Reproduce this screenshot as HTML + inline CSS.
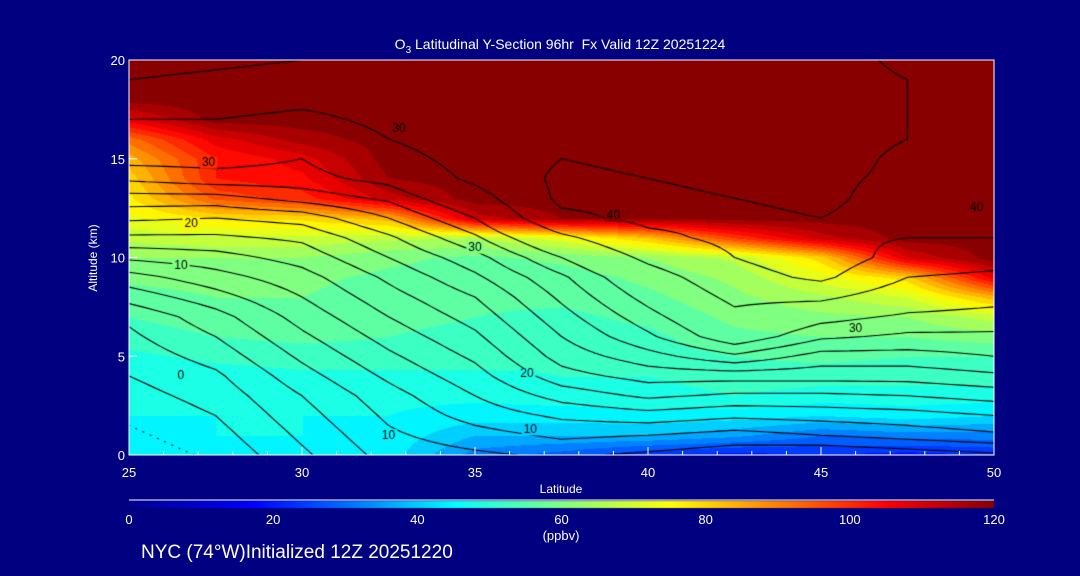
<!DOCTYPE html>
<html><head><meta charset="utf-8"><style>
html,body{margin:0;padding:0;background:#000080;width:1080px;height:576px;overflow:hidden}
.t{position:absolute;color:#fff;font-family:"Liberation Sans",sans-serif;white-space:nowrap}
</style></head><body>
<div style="position:relative;width:1080px;height:576px">
<div class="t" style="left:0;width:1120px;text-align:center;top:36px;font-size:14px">O<sub style="font-size:10px">3</sub> Latitudinal Y-Section 96hr&nbsp; Fx Valid 12Z 20251224</div>
<canvas id="cv" width="1080" height="576" style="position:absolute;left:0;top:0"></canvas>
<svg id="sv" width="1080" height="576" style="position:absolute;left:0;top:0"></svg>
<div class="t" style="left:93px;top:258px;font-size:12px;transform:translate(-50%,-50%) rotate(-90deg)">Altitude (km)</div>
<div class="t" style="left:561px;top:482px;font-size:12px;transform:translateX(-50%)">Latitude</div>
<div class="t" style="left:561px;top:528px;font-size:13px;transform:translateX(-50%)">(ppbv)</div>
<div class="t" style="left:141px;top:542px;font-size:19px">NYC (74°W)Initialized 12Z 20251220</div>
</div>
<script>
const lats=[25,27.5,30,32.5,35,37.5,40,42.5,45,47.5,50];
const alts=[0,1,2,3,4,5,6,7,8,9,10,11,12,13,14,15,16,17,18,19,20];
// ozone (ppbv), rows = altitude 0..20, cols = latitude
const ozone=[
[45,45,45,44,32,28,22,20,22,20,22],
[45,46,46,45,38,38,38,35,30,32,32],
[46,46,46,46,44,44,45,44,42,44,42],
[46,47,47,47,47,48,48,50,48,48,48],
[47,48,49,49,49,50,50,52,52,52,52],
[49,51,52,52,52,51,52,54,55,54,54],
[52,54,55,54,53,52,53,57,58,58,60],
[54,56,56,55,54,53,55,59,61,62,68],
[56,58,58,56,55,55,57,61,65,70,84],
[59,60,59,57,56,56,59,63,72,80,108],
[62,62,62,59,57,59,62,67,80,110,120],
[67,69,69,67,66,72,82,98,112,120,120],
[73,78,79,84,112,118,118,120,120,120,120],
[77,95,100,112,120,120,120,120,120,120,120],
[80,102,105,118,120,120,120,120,120,120,120],
[84,102,108,120,120,120,120,120,120,120,120],
[92,108,116,120,120,120,120,120,120,120,120],
[108,120,120,120,120,120,120,120,120,120,120],
[120,120,120,120,120,120,120,120,120,120,120],
[120,120,120,120,120,120,120,120,120,120,120],
[120,120,120,120,120,120,120,120,120,120,120]];
// contour field, rows = altitude 0..20, cols = latitude
const contourField=[
[-4,-2,2,6,7,8,7,6,5,6,7],
[-3,-1,3,7,9,10.5,10,9,10,11,12],
[-2,0,4,8,11,13,14,13,13.5,14,15],
[-1,1,5,9,12.5,16,18,17,17,17.5,18.5],
[0,2,6.5,10.5,14,19,21,21,21,21,22],
[1,3.5,8,12,15.5,21,24,27,24,24,25],
[2,5,9.5,13.5,17,22.5,27,32,28,27,27],
[3,6.5,11,15,18.5,24,29,34,31,29.5,29],
[6,9,12.5,16.5,20,25.5,31,36,36,32,31],
[9,11.5,14,18,22,27,33,38,41,35,34],
[13,14,16,20,24,30,36,40,43,38,37],
[17,17,18,22,27,34,39,41,41,40,40],
[20.5,20,21,25,30,39,41,41,40,42,42],
[24,24,26,28,33,41,41,40,39,42,43],
[28,29,29,31,36,41,40,39,39,41,43],
[31,31,30,33,37,40,39,38,38,41,43],
[33,33,32,35,38,39,38,38,38,40,42],
[35,35,34,36,38,38,37,37,38,40,42],
[38,37,36,37,38,37,37,37,38,40,42],
[40,39,38,38,38,37,37,37,38,40,42],
[42,41,40,39,38,37,37,37,38,41,42]];
const contourLevels=[-5,-2.5,0,2.5,5,7.5,10,12.5,15,17.5,20,22.5,25,27.5,30,35,40];
const xTicks=[25,30,35,40,45,50];
const yTicks=[0,5,10,15,20];
const cbTicks=[0,20,40,60,80,100,120];
const contourLabels=[[26.5,4,'0'],[26.5,9.6,'10'],[26.8,11.7,'20'],[27.3,14.8,'30'],[32.8,16.5,'30'],[32.5,1,'10'],[36.6,1.3,'10'],[36.5,4.1,'20'],[35,10.5,'30'],[39,12.1,'40'],[46,6.4,'30'],[49.5,12.5,'40']];

const X0=129,X1=994,Y0=455,Y1=60;
const xs=l=>X0+(l-25)/25*(X1-X0);
const ys=a=>Y0-a/20*(Y0-Y1);
const stops=[[0,0,0,140],[17,0,0,255],[30,0,110,255],[45,0,255,255],[60,128,255,128],[75,255,255,0],[90,255,128,0],[105,255,0,0],[120,136,0,0]];
function cmap(v){v=Math.max(0,Math.min(120,v));for(let i=1;i<stops.length;i++){if(v<=stops[i][0]){const a=stops[i-1],b=stops[i],t=(v-a[0])/(b[0]-a[0]);return[a[1]+t*(b[1]-a[1]),a[2]+t*(b[2]-a[2]),a[3]+t*(b[3]-a[3])];}}return stops[stops.length-1].slice(1);}
function bil(g,lat,alt){let fx=(lat-25)/2.5,fy=alt;let i=Math.min(9,Math.floor(fx)),j=Math.min(19,Math.floor(fy));let tx=fx-i,ty=fy-j;return g[j][i]*(1-tx)*(1-ty)+g[j][i+1]*tx*(1-ty)+g[j+1][i]*(1-tx)*ty+g[j+1][i+1]*tx*ty;}
const cv=document.getElementById('cv'),ctx=cv.getContext('2d');
const W=X1-X0,H=Y0-Y1,img=ctx.createImageData(W,H);
for(let py=0;py<H;py++)for(let px=0;px<W;px++){const lat=25+px/W*25,alt=20-py/H*20;let v=bil(ozone,lat,alt);v=Math.round(v/4)*4;const c=cmap(v),k=(py*W+px)*4;img.data[k]=c[0];img.data[k+1]=c[1];img.data[k+2]=c[2];img.data[k+3]=255;}
ctx.putImageData(img,X0,Y1);
for(let px=0;px<W;px++){const c=cmap(px/W*120);ctx.fillStyle=`rgb(${c[0]|0},${c[1]|0},${c[2]|0})`;ctx.fillRect(X0+px,501,1,7);}
const NS=6,NX=10*NS,NY=20*NS;
const fine=[];for(let j=0;j<=NY;j++){fine.push([]);for(let i=0;i<=NX;i++)fine[j].push(bil(contourField,25+i/NX*25,j/NY*20));}
ctx.save();ctx.beginPath();ctx.rect(X0,Y1,W,H);ctx.clip();
for(const lev of contourLevels){
 ctx.beginPath();
 for(let j=0;j<NY;j++)for(let i=0;i<NX;i++){
  const p=[[i,j],[i+1,j],[i+1,j+1],[i,j+1]],v=p.map(q=>fine[q[1]][q[0]]);const pts=[];
  for(let e=0;e<4;e++){const a=v[e],b=v[(e+1)%4];if((a<lev)!==(b<lev)){const t=(lev-a)/(b-a),P=p[e],Q=p[(e+1)%4];const gi=P[0]+t*(Q[0]-P[0]),gj=P[1]+t*(Q[1]-P[1]);pts.push([xs(25+gi/NX*25),ys(gj/NY*20)]);}}
  for(let k=0;k+1<pts.length;k+=2){ctx.moveTo(pts[k][0],pts[k][1]);ctx.lineTo(pts[k+1][0],pts[k+1][1]);}
 }
 ctx.strokeStyle='#000';ctx.lineWidth=1.1;ctx.setLineDash(lev<0?[1,6]:[]);ctx.stroke();
}
ctx.restore();
ctx.setLineDash([]);
ctx.font='12px "Liberation Sans",sans-serif';ctx.textAlign='center';ctx.textBaseline='middle';
for(const L of contourLabels){const x=xs(L[0]),y=ys(L[1]);const w=ctx.measureText(L[2]).width+4;const c=cmap(Math.round(bil(ozone,L[0],L[1])/4)*4);ctx.fillStyle=`rgb(${c[0]|0},${c[1]|0},${c[2]|0})`;ctx.fillRect(x-w/2,y-6,w,12);ctx.fillStyle='#000';ctx.fillText(L[2],x,y);}
const sv=document.getElementById('sv'),NSs='http://www.w3.org/2000/svg';
function mk(tag,at,txt){const e=document.createElementNS(NSs,tag);for(const k in at)e.setAttribute(k,at[k]);if(txt!=null)e.textContent=txt;sv.appendChild(e);return e;}
const fr=mk('rect',{x:X0,y:Y1,width:W,height:H,fill:'none',stroke:'#fff','stroke-width':1});


const cl=mk('line',{x1:X0,x2:X1,y1:500,y2:500,stroke:'#fff','stroke-width':1});


for(let l=25;l<=50;l++){const tk=mk('line',{x1:xs(l),x2:xs(l),y1:Y0,y2:Y0-(l%5==0?8:4),stroke:'#fff'});

}
for(const a of yTicks){const tk=mk('line',{x1:X0,x2:X0+8,y1:ys(a),y2:ys(a),stroke:'#fff'});

}
const st={fill:'#fff','font-family':'Liberation Sans, sans-serif','font-size':13};
for(const l of xTicks){const t=mk('text',Object.assign({x:xs(l),y:Y0+22,'text-anchor':'middle'},st),String(l));

}
for(const a of yTicks){const t=mk('text',Object.assign({x:X0-4,y:ys(a)+5,'text-anchor':'end'},st),String(a));

}
for(const v of cbTicks){const t=mk('text',Object.assign({x:X0+v/120*W,y:524,'text-anchor':'middle'},st),String(v));

}
</script>
</body></html>
